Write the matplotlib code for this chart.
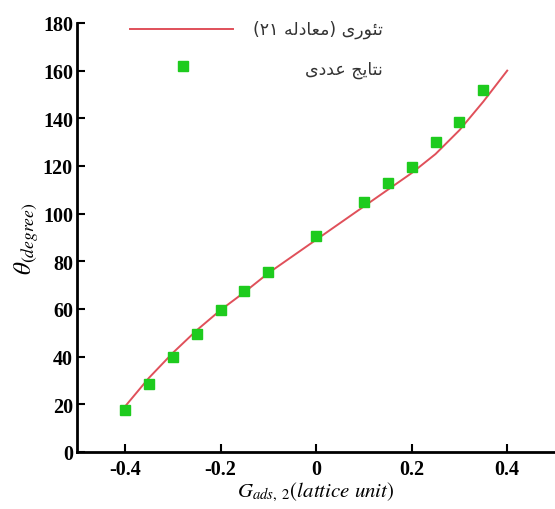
"""
Contact angle against adsorption strength: theory curve and LBM results
"""

import re

import matplotlib

matplotlib.use("Agg")
import matplotlib.pyplot as plt

# theory curve (eq. 21)
g_theory = [-0.4, -0.35, -0.3, -0.25, -0.2, -0.15, -0.1, -0.05, 0.0,
            0.05, 0.1, 0.15, 0.2, 0.25, 0.3, 0.35, 0.4]
theta_theory = [19, 31, 41.5, 51, 59.5, 67, 75, 82, 89,
                96, 103, 110, 117, 125, 135, 147, 160]

# numerical results
g_sim = [-0.4, -0.35, -0.3, -0.25, -0.2, -0.15, -0.1, 0.0,
         0.1, 0.15, 0.2, 0.25, 0.3, 0.35]
theta_sim = [17.5, 28.5, 40, 49.5, 59.5, 67.5, 75.5, 90.5,
             105, 113, 119.5, 130, 138.5, 152]

label_theory = "تئوری (معادله ۲۱)"
label_sim = "نتایج عددی"

xticks = [-0.4, -0.2, 0, 0.2, 0.4]
xticklabels = ["-0.4", "-0.2", "0", "0.2", "0.4"]
yticks = list(range(0, 181, 20))

# isolated, final, initial, medial presentation forms
FORMS = {
    "ت": (0xFE95, 0xFE96, 0xFE97, 0xFE98),
    "ئ": (0xFE89, 0xFE8A, 0xFE8B, 0xFE8C),
    "و": (0xFEED, 0xFEEE, None, None),
    "ر": (0xFEAD, 0xFEAE, None, None),
    "ی": (0xFEEF, 0xFEF0, 0xFEF3, 0xFEF4),
    "م": (0xFEE1, 0xFEE2, 0xFEE3, 0xFEE4),
    "ع": (0xFEC9, 0xFECA, 0xFECB, 0xFECC),
    "ا": (0xFE8D, 0xFE8E, None, None),
    "د": (0xFEA9, 0xFEAA, None, None),
    "ل": (0xFEDD, 0xFEDE, 0xFEDF, 0xFEE0),
    "ه": (0xFEE9, 0xFEEA, 0xFEEB, 0xFEEC),
    "ن": (0xFEE5, 0xFEE6, 0xFEE7, 0xFEE8),
    "ج": (0xFE9D, 0xFE9E, 0xFE9F, 0xFEA0),
}


def rtl(text):
    out = []
    for i, ch in enumerate(text):
        forms = FORMS.get(ch)
        if forms is None:
            out.append(ch)
            continue
        prev = text[i - 1] if i > 0 else ""
        nxt = text[i + 1] if i + 1 < len(text) else ""
        a = prev in FORMS and FORMS[prev][2] is not None
        b = nxt in FORMS and forms[2] is not None
        idx = {(False, False): 0, (True, False): 1,
               (False, True): 2, (True, True): 3}[(a, b)]
        out.append(chr(forms[idx]))
    s = "".join(out)[::-1].translate(str.maketrans("()", ")("))
    return re.sub("[۰-۹]+", lambda m: m.group()[::-1], s)


plt.rcParams["mathtext.fontset"] = "stix"
plt.rcParams["font.family"] = ["Liberation Serif", "DejaVu Sans"]

fig = plt.figure(figsize=(5.55, 5.1), dpi=100)
ax = fig.add_axes([0.139, 0.112, 0.861, 0.841])

ax.plot(g_theory, theta_theory, "-", color="#e0505a", lw=1.4, zorder=2)
ax.plot(g_sim, theta_sim, "s", color="#1ecb1e", ms=7, mec="#1ecb1e", zorder=3)

ax.set_xlim(-0.5, 0.5)
ax.set_ylim(0, 180)
ax.set_xticks(xticks)
ax.set_xticklabels(xticklabels)
ax.set_yticks(yticks)
for lab in ax.get_xticklabels() + ax.get_yticklabels():
    lab.set_fontweight("bold")
    lab.set_fontsize(14.5)

ax.tick_params(direction="in", length=6, width=1.5, pad=3)
ax.tick_params(axis="x", pad=5)
ax.spines["top"].set_visible(False)
ax.spines["right"].set_visible(False)
ax.spines["left"].set_linewidth(2)
ax.spines["bottom"].set_linewidth(2)

ax.set_xlabel(r"$G_{ads,\ 2}\mathit{(lattice\ unit)}$", fontsize=15, labelpad=1)
ax.set_ylabel(r"$\theta_{\mathit{(degree)}}$", fontsize=18, labelpad=1)

# legend drawn by hand so the Persian labels stay right-aligned
ax.plot([0.111, 0.327], [0.986, 0.986], "-", color="#e0505a", lw=1.4,
        transform=ax.transAxes, clip_on=False)
ax.plot([0.222], [0.9], "s", color="#1ecb1e", ms=7,
        transform=ax.transAxes, clip_on=False)
ax.text(0.64, 0.986, rtl(label_theory), transform=ax.transAxes, ha="right",
        va="center", fontsize=12.5, family=["DejaVu Sans"], color="#333333")
ax.text(0.64, 0.893, rtl(label_sim), transform=ax.transAxes, ha="right",
        va="center", fontsize=12.5, family=["DejaVu Sans"], color="#333333")

fig.savefig("out.png", dpi=100)
